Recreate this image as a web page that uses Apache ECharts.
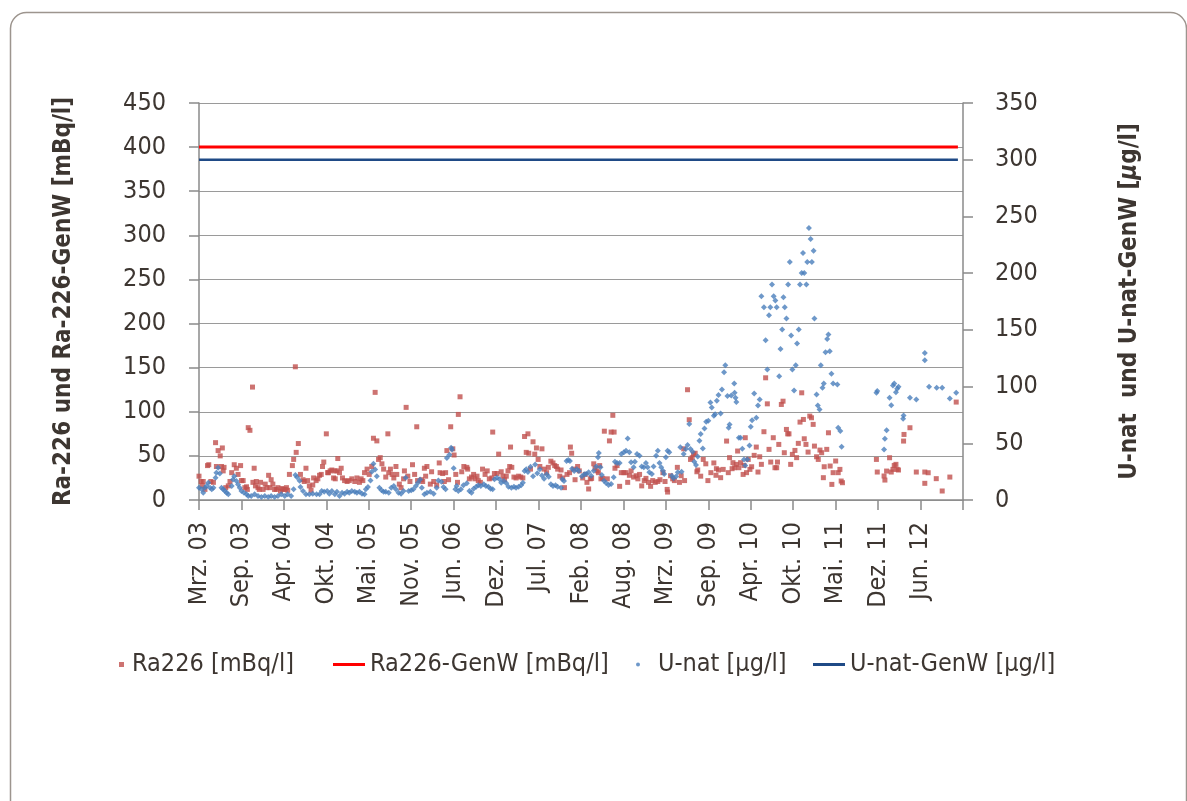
<!DOCTYPE html>
<html>
<head>
<meta charset="utf-8">
<script src="https://cdn.jsdelivr.net/npm/echarts@6/dist/echarts.min.js"></script>
<style>
html,body{margin:0;padding:0;background:#fff;}
#chart{width:1187px;height:801px;}
</style>
</head>
<body>
<div id="chart"></div>
<script>
// x = sample position on the category axis (1 unit = one labelled tick interval)
const tickLabels = ['Mrz. 03','Sep. 03','Apr. 04','Okt. 04','Mai. 05','Nov. 05','Jun. 06','Dez. 06','Jul. 07','Feb. 08','Aug. 08','Mrz. 09','Sep. 09','Apr. 10','Okt. 10','Mai. 11','Dez. 11','Jun. 12'];

// Ra226 [mBq/l]  (left axis)
const ra226 = [
[0.00,27],[0.05,21],[0.08,16],[0.10,21],[0.14,12],[0.20,39],[0.23,40],[0.28,21],[0.34,20],[0.39,65],[0.41,38],[0.45,56],[0.50,50],[0.53,38],[0.55,59],[0.57,33],[0.59,37],[0.63,14],[0.69,16],[0.73,21],[0.77,31],[0.83,40],[0.88,36],[0.92,29],[0.98,39],[1.00,22],[1.04,22],[1.08,14],[1.12,15],[1.14,12],[1.16,82],[1.20,79],[1.26,128],[1.27,20],[1.30,36],[1.33,16],[1.35,21],[1.39,14],[1.42,12],[1.45,20],[1.51,12],[1.56,18],[1.60,14],[1.64,28],[1.67,14],[1.70,23],[1.74,18],[1.78,12],[1.82,12],[1.86,14],[1.92,10],[1.95,13],[1.98,12],[2.03,12],[2.06,14],[2.09,11],[2.13,29],[2.20,39],[2.23,46],[2.27,151],[2.29,54],[2.34,64],[2.39,29],[2.45,23],[2.48,21],[2.52,36],[2.56,22],[2.60,16],[2.64,11],[2.68,17],[2.70,25],[2.76,22],[2.80,24],[2.84,28],[2.88,29],[2.91,38],[2.94,43],[3.00,75],[3.03,31],
[3.05,31],[3.09,33],[3.13,34],[3.17,25],[3.20,33],[3.21,24],[3.25,33],[3.27,47],[3.31,31],[3.35,36],[3.38,25],[3.43,22],[3.49,21],[3.54,22],[3.60,24],[3.67,21],[3.72,25],[3.78,20],[3.82,24],[3.86,22],[3.90,31],[3.96,35],[4.01,29],[4.07,38],[4.11,70],[4.15,122],[4.19,67],[4.23,46],[4.27,48],[4.31,41],[4.35,35],[4.40,26],[4.45,75],[4.47,31],[4.51,35],[4.55,29],[4.59,25],[4.64,38],[4.66,29],[4.72,18],[4.76,14],[4.82,24],[4.84,33],[4.88,105],[4.92,27],[4.97,21],[5.03,40],[5.08,29],[5.13,83],[5.15,22],[5.24,23],[5.27,21],[5.31,36],[5.34,27],[5.37,38],[5.45,18],[5.48,32],[5.53,21],[5.60,17],[5.66,42],[5.68,31],[5.74,30],[5.78,21],[5.81,31],[5.84,56],[5.88,23],[5.93,83],[5.98,58],[6.01,51],[6.05,29],
[6.09,20],[6.11,97],[6.15,117],[6.19,32],[6.24,38],[6.31,37],[6.33,35],[6.37,24],[6.42,26],[6.47,29],[6.50,24],[6.55,27],[6.58,22],[6.63,20],[6.68,35],[6.74,29],[6.79,33],[6.84,24],[6.90,25],[6.92,77],[6.96,30],[7.02,30],[7.06,52],[7.12,32],[7.16,27],[7.20,23],[7.24,27],[7.28,33],[7.32,38],[7.34,60],[7.37,37],[7.42,26],[7.47,25],[7.53,27],[7.58,26],[7.63,25],[7.67,72],[7.71,54],[7.75,75],[7.77,53],[7.81,35],[7.87,66],[7.91,52],[7.95,59],[7.99,46],[8.03,38],[8.08,58],[8.13,35],[8.19,31],[8.23,37],[8.29,44],[8.34,42],[8.38,39],[8.42,38],[8.45,35],[8.50,27],[8.53,34],[8.57,25],[8.61,14],[8.67,29],[8.73,31],[8.75,60],[8.78,53],[8.83,35],[8.86,23],[8.92,38],[8.96,33],[9.04,25],[9.10,29],
[9.14,20],[9.18,12.5],[9.22,24],[9.25,24.5],[9.30,41],[9.33,36],[9.38,33],[9.41,31],[9.44,39],[9.47,24],[9.51,24.5],[9.55,78],[9.62,24],[9.67,67],[9.71,77],[9.75,96],[9.78,77],[9.80,36],[9.85,39],[9.91,15.5],[9.95,31],[10.01,31],[10.06,31],[10.10,20],[10.14,28],[10.18,33],[10.24,26],[10.30,27.5],[10.34,24],[10.38,29],[10.43,16],[10.49,22],[10.53,24.5],[10.59,20],[10.64,15.5],[10.69,22],[10.75,20],[10.81,21],[10.86,23],[10.93,31],[10.98,21],[11.03,12],[11.04,9],[11.11,27.5],[11.16,24],[11.20,22],[11.27,37],[11.32,20],[11.36,27.5],[11.42,58],[11.44,22],[11.51,125],[11.55,91],[11.58,46],[11.62,48],[11.65,52],[11.69,53],[11.73,32],[11.75,34],[11.82,27],[11.88,46],[11.94,41],[11.99,22],[12.06,31],[12.13,42],[12.18,28],
[12.19,35.5],[12.24,34],[12.29,25.3],[12.35,34.7],[12.43,66.8],[12.47,31],[12.50,48],[12.56,35.5],[12.58,42.3],[12.62,36.6],[12.66,40.4],[12.69,55.5],[12.72,36.6],[12.76,42.3],[12.82,29],[12.84,39.2],[12.87,70.6],[12.90,31],[12.94,46],[12.98,34.7],[13.02,37.7],[13.08,50.6],[13.13,60],[13.17,31.7],[13.21,49],[13.25,40.4],[13.31,77.4],[13.35,138.5],[13.39,109],[13.43,57.4],[13.47,43],[13.53,70.6],[13.57,36.6],[13.61,36.6],[13.63,43],[13.66,63],[13.72,108.3],[13.76,112],[13.79,53.6],[13.84,80],[13.87,75],[13.90,75],[13.94,40.4],[13.98,51.7],[14.04,56.2],[14.08,48],[14.12,64.2],[14.16,88.3],[14.20,121.5],[14.24,91.3],[14.26,69.4],[14.30,63],[14.35,54.3],[14.39,95.1],[14.43,93.2],[14.47,85.7],[14.50,61.1],[14.55,49],[14.59,46],[14.63,56.6],[14.67,53.6],[14.71,25.3],[14.73,37.7],[14.79,57.4],[14.83,76.2],[14.87,38.5],[14.91,17.7],[14.94,31],[15.00,44.2],[15.06,31],[15.10,34.7],[15.13,21.5],[15.16,19.6],
[15.96,46],[15.98,31.7],[16.14,27.2],[16.16,22.6],[16.20,32.8],[16.27,47.9],[16.31,31.7],[16.35,34.7],[16.38,39.2],[16.42,40.4],[16.45,34.7],[16.48,34],[16.60,66.8],[16.61,74.3],[16.75,81.9],[16.90,31.7],[17.10,31.7],[17.10,18.9],[17.18,30.9],[17.37,24.2],[17.51,10.2],[17.69,26],[17.84,111]
];

// U-nat [µg/l]  (right axis)
const unat = [
[0.00,10.8],[0.06,9.4],[0.10,6.4],[0.14,10.8],[0.18,12.3],[0.22,15.2],[0.26,10.8],[0.30,9.4],[0.34,10.8],[0.39,19.6],[0.41,24],[0.45,28.4],[0.49,23.4],[0.53,10.8],[0.57,9.4],[0.61,7.9],[0.65,6.4],[0.69,5],[0.77,12.3],[0.80,18.1],[0.83,21],[0.88,16.7],[0.92,13.7],[0.96,10.8],[1.00,7.9],[1.06,6.4],[1.12,5],[1.16,3.5],[1.23,3.5],[1.31,5],[1.39,3.5],[1.47,2.6],[1.55,3.5],[1.63,2.6],[1.70,3.5],[1.78,2.6],[1.86,3.5],[1.94,5],[2.02,3.5],[2.09,5],[2.17,3.5],[2.23,9.4],[2.27,22],[2.31,20],[2.37,17],[2.39,11.4],[2.45,7.9],[2.52,5],[2.60,5],[2.68,5.6],[2.77,5],[2.84,5],[2.89,7.9],[2.95,7.3],
[3.02,7.9],[3.07,5.6],[3.13,7.9],[3.20,5],[3.25,7.3],[3.31,3.5],[3.37,6.4],[3.43,5.6],[3.49,7.3],[3.54,6.4],[3.60,7.9],[3.67,7.3],[3.72,6.4],[3.78,7.3],[3.84,5.6],[3.90,5],[3.93,9.4],[3.98,11.4],[4.04,17.3],[4.07,24.9],[4.11,31.9],[4.15,26.9],[4.19,21],[4.25,10.8],[4.30,8.5],[4.35,7.3],[4.40,7.3],[4.47,6.4],[4.53,10.8],[4.59,12.3],[4.64,9.4],[4.70,6.4],[4.76,5.6],[4.82,7.9],[4.87,19.6],[4.94,7.9],[5.00,8.5],[5.05,9.4],[5.11,12.3],[5.16,15.2],[5.21,18.1],[5.25,10.8],[5.31,5],[5.37,6.4],[5.45,7.3],[5.53,5.6],[5.60,10.8],[5.64,17.3],[5.71,16.1],[5.76,11.4],[5.81,9.4],[5.84,37],[5.90,40],[5.94,46],[5.96,44.5],[6.00,28],[6.04,9.4],
[6.07,12.3],[6.11,7.9],[6.17,9.4],[6.23,12.9],[6.31,14.7],[6.37,7.9],[6.42,6.5],[6.47,10],[6.53,11.7],[6.58,12.9],[6.64,12.3],[6.71,13.8],[6.76,12.3],[6.82,11.7],[6.87,10],[6.92,9.4],[6.96,18.2],[7.02,19.7],[7.08,18.2],[7.12,15.3],[7.18,16.7],[7.24,14.7],[7.29,11.7],[7.36,10.9],[7.42,11.7],[7.47,10.9],[7.53,11.7],[7.59,12.9],[7.63,15.3],[7.67,25.5],[7.71,27],[7.75,24.7],[7.81,29.4],[7.87,21],[7.92,31.4],[7.97,23.5],[8.03,27],[8.08,21.7],[8.13,18.8],[8.19,22.6],[8.24,20.5],[8.29,13.8],[8.34,12.3],[8.40,12.9],[8.45,11.7],[8.53,10.9],[8.56,18.2],[8.60,16.7],[8.66,34.3],[8.70,35.2],[8.74,34.3],[8.79,27.6],[8.84,25.5],[8.90,27],[8.95,25.5],[9.02,21],[9.08,22.6],
[9.12,22.9],[9.18,24.4],[9.24,21.4],[9.30,25.8],[9.36,29.6],[9.40,37.6],[9.42,41.4],[9.46,28.8],[9.49,22],[9.54,17],[9.59,15],[9.65,13.2],[9.71,14.1],[9.77,20],[9.80,33.8],[9.85,32.6],[9.91,32.6],[9.95,40.5],[10.01,42],[10.06,43.4],[10.10,54.3],[10.14,42],[10.18,33.2],[10.24,28.8],[10.27,33.8],[10.32,40.5],[10.38,39],[10.43,29.6],[10.48,28.8],[10.53,32.6],[10.57,28.8],[10.61,24.4],[10.67,22.9],[10.71,29.6],[10.77,39],[10.81,43.4],[10.85,32.6],[10.89,28.8],[10.93,25.8],[10.96,22.9],[11.00,37.6],[11.04,43.4],[11.08,42],[11.14,21.4],[11.18,19.1],[11.24,20.8],[11.28,24.4],[11.34,46.4],[11.37,25],[11.42,40.5],[11.47,45],[11.51,48.4],[11.55,67],[11.58,45],[11.63,42.6],[11.67,33.8],[11.71,30.8],[11.75,38.4],[11.79,52.2],[11.82,58.1],[11.87,45.5],[11.91,63.1],[11.95,69],[12.00,69.9],[12.05,86],[12.08,81.6],[12.13,74.3],[12.16,75.7],[12.20,87.5],[12.24,92.5],
[12.29,76.3],[12.32,97.4],[12.37,112.7],[12.40,118.9],[12.45,91.6],[12.48,63.7],[12.50,66.6],[12.54,92.2],[12.61,102.7],[12.62,94.5],[12.64,90.1],[12.66,86.3],[12.72,54.9],[12.76,54.9],[12.80,45.2],[12.84,35.8],[12.87,30.5],[12.92,35.8],[12.97,48.1],[13.00,64.6],[13.03,70.4],[13.08,93.9],[13.13,72.5],[13.17,83.4],[13.21,88.6],[13.25,179.6],[13.31,170],[13.35,140.9],[13.39,115],[13.43,162.9],[13.46,170],[13.50,189.9],[13.54,179.6],[13.58,175.8],[13.61,170],[13.67,109.2],[13.70,133.2],[13.74,150.3],[13.77,178.7],[13.80,170],[13.84,160],[13.88,189.9],[13.92,209.9],[13.95,145],[13.98,115],[14.02,96.6],[14.06,118.9],[14.09,137.9],[14.13,150.3],[14.16,189.9],[14.20,200.2],[14.23,217.8],[14.26,200.2],[14.31,189.9],[14.33,209.9],[14.37,239.8],[14.41,230.1],[14.44,209.9],[14.48,219.8],[14.50,160],[14.55,93],[14.58,83.4],[14.62,79.8],[14.65,118.9],[14.69,98.9],[14.72,102.7],[14.76,130.3],[14.80,142],[14.83,145.9],[14.86,131.2],[14.90,111.2],[14.94,102.7],[15.04,101.8],[15.06,63.7],[15.11,60.8],[15.14,47],
[15.96,94.5],[15.98,96],[16.14,44.6],[16.16,54],[16.20,61.6],[16.27,90.1],[16.31,83.6],[16.35,101],[16.38,102.7],[16.42,95.1],[16.45,98],[16.48,99.8],[16.59,71.6],[16.60,74.5],[16.75,90.1],[16.90,88.6],[17.10,123.3],[17.10,129.7],[17.20,99.8],[17.38,98.9],[17.51,98.9],[17.69,89.5],[17.84,94.5]
];

// limit values (GenW) over the sampled period
const limitSpan = [0, 17.88];
const ra226Limit = 400;   // mBq/l
const unatLimit = 300;    // µg/l

const FONT = "'DejaVu Sans Condensed','Liberation Sans Narrow','Roboto Condensed','Liberation Sans',sans-serif";
const TXT = '#3d3631';
const FS = 25;

const chart = echarts.init(document.getElementById('chart'), null, {renderer:'canvas'});
const legendBase = (name, left, icon, w, h, pad) => ({
  data:[name], left:left, top:652, padding:0, icon:icon, itemWidth:w, itemHeight:h,
  textStyle:{fontFamily:FONT, fontSize:FS, color:TXT, padding:[0,0,0,pad]}, selectedMode:false
});
chart.setOption({
  animation:false,
  backgroundColor:'#ffffff',
  graphic:[{type:'rect', left:8, top:10, shape:{width:1176, height:820, r:16}, style:{fill:'none', stroke:'#9d958e', lineWidth:1.5}, z:-10}],
  grid:{left:199, right:224, top:103, bottom:301, containLabel:false},
  legend:[
    legendBase('Ra226 [mBq/l]', 119, 'rect', 5, 5, 3),
    legendBase('Ra226-GenW [mBq/l]', 333, 'rect', 32, 3, 0),
    legendBase('U-nat [µg/l]', 636, 'circle', 4, 4, 13),
    legendBase('U-nat-GenW [µg/l]', 813, 'rect', 32, 3, 0)
  ],
  xAxis:{
    type:'value', min:0, max:18, interval:1,
    axisLine:{show:true, onZero:false, lineStyle:{color:'#8a8a8a', width:1.5}},
    axisTick:{show:true, length:10, lineStyle:{color:'#8a8a8a', width:1.5}},
    splitLine:{show:false},
    axisLabel:{rotate:90, margin:22, fontFamily:FONT, fontSize:FS, color:TXT,
      formatter:(v)=> tickLabels[Math.round(v)] || ''}
  },
  yAxis:[
    {type:'value', min:0, max:450, interval:50, position:'left',
     name:'Ra-226 und Ra-226-GenW [mBq/l]', nameLocation:'middle', nameGap:123, nameRotate:90,
     nameTextStyle:{fontFamily:FONT, fontSize:24, fontWeight:'bold', color:TXT},
     axisLine:{show:true, lineStyle:{color:'#8a8a8a', width:1.5}},
     axisTick:{show:true, length:10, lineStyle:{color:'#8a8a8a', width:1.5}},
     splitLine:{show:true, lineStyle:{color:'#9a9a9a', width:1}},
     axisLabel:{margin:33, fontFamily:FONT, fontSize:FS, color:TXT}},
    {type:'value', min:0, max:350, interval:50, position:'right',
     name:'{a|U-nat  und U-nat-GenW [}{b|µ}{a|g/l]}', nameLocation:'middle', nameGap:155, nameRotate:90,
     nameTextStyle:{rich:{
       a:{fontFamily:FONT, fontSize:24, fontWeight:'bold', color:TXT},
       b:{fontFamily:FONT, fontSize:24, fontWeight:'bold', fontStyle:'italic', color:TXT}}},
     axisLine:{show:true, lineStyle:{color:'#8a8a8a', width:1.5}},
     axisTick:{show:true, length:10, lineStyle:{color:'#8a8a8a', width:1.5}},
     splitLine:{show:false},
     axisLabel:{margin:32, fontFamily:FONT, fontSize:FS, color:TXT}}
  ],
  series:[
    {name:'Ra226 [mBq/l]', type:'scatter', yAxisIndex:0, symbol:'rect', symbolSize:5,
     itemStyle:{color:'#C0504D'}, data:ra226},
    {name:'Ra226-GenW [mBq/l]', type:'line', yAxisIndex:0, showSymbol:false, symbol:'none',
     lineStyle:{color:'#FF0000', width:3}, itemStyle:{color:'#FF0000'},
     data:limitSpan.map(t=>[t, ra226Limit])},
    {name:'U-nat [µg/l]', type:'scatter', yAxisIndex:1, symbol:'diamond', symbolSize:6,
     itemStyle:{color:'#4A7EBB'}, data:unat},
    {name:'U-nat-GenW [µg/l]', type:'line', yAxisIndex:1, showSymbol:false, symbol:'none',
     lineStyle:{color:'#1F4A86', width:2.5}, itemStyle:{color:'#1F4A86'},
     data:limitSpan.map(t=>[t, unatLimit])}
  ]
});
</script>
</body>
</html>
